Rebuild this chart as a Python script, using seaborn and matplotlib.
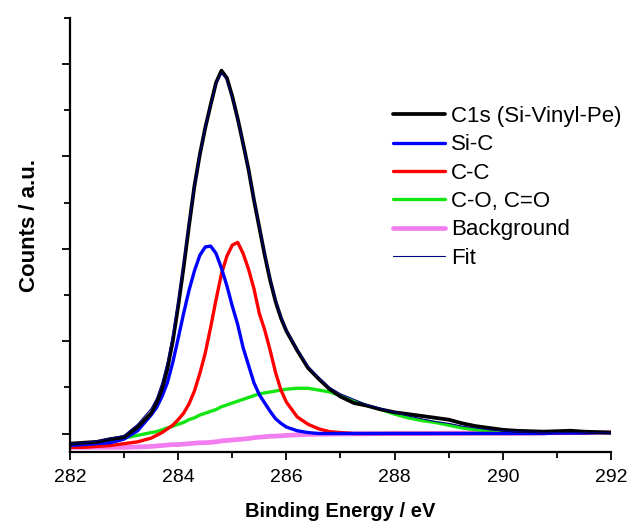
import seaborn as sns
import matplotlib.pyplot as plt
from matplotlib.ticker import MultipleLocator
import pandas as pd

sns.set_theme(style="ticks")
plt.rcParams['font.family'] = ['Liberation Sans', 'DejaVu Sans']
plt.rcParams['text.color'] = 'black'
plt.rcParams['axes.labelcolor'] = 'black'

# binding energy grid (eV)
energy = [282.0, 282.25, 282.5, 282.75, 283.0, 283.25, 283.5, 283.6, 283.7, 283.8,
          283.9, 284.0, 284.1, 284.2, 284.3, 284.4, 284.5, 284.6, 284.7, 284.8,
          284.9, 285.0, 285.1, 285.2, 285.3, 285.4, 285.5, 285.6, 285.7, 285.8,
          285.9, 286.0, 286.2, 286.4, 286.6, 286.8, 287.0, 287.25, 287.5, 287.75,
          288.0, 288.25, 288.5, 288.75, 289.0, 289.25, 289.5, 289.75, 290.0, 290.25,
          290.5, 290.75, 291.0, 291.25, 291.5, 291.75, 292.0]

# counts (arbitrary units)
c1s = [-0.11, -0.10, -0.09, -0.06, -0.04, 0.07, 0.22, 0.33, 0.48, 0.70,
       1.00, 1.38, 1.80, 2.25, 2.68, 3.02, 3.31, 3.56, 3.80, 3.93,
       3.85, 3.65, 3.41, 3.14, 2.86, 2.53, 2.23, 1.93, 1.66, 1.43,
       1.25, 1.11, 0.90, 0.71, 0.59, 0.48, 0.40, 0.33, 0.30, 0.26,
       0.23, 0.21, 0.19, 0.17, 0.15, 0.11, 0.08, 0.06, 0.04, 0.03,
       0.025, 0.02, 0.025, 0.03, 0.02, 0.015, 0.01]
si_c = [-0.13, -0.12, -0.11, -0.10, -0.06, 0.03, 0.20, 0.28, 0.40, 0.55,
        0.77, 1.03, 1.30, 1.55, 1.76, 1.93, 2.02, 2.03, 1.95, 1.79,
        1.60, 1.38, 1.18, 0.93, 0.74, 0.55, 0.42, 0.33, 0.24, 0.16,
        0.11, 0.07, 0.03, 0.01, 0.0, 0.0, 0.0, 0.0, 0.0, 0.0,
        0.0, 0.0, 0.0, 0.0, 0.0, 0.0, 0.0, 0.0, 0.0, 0.0,
        0.0, 0.0, 0.005, 0.005, 0.005, 0.01, 0.01]
c_c = [-0.15, -0.15, -0.14, -0.13, -0.11, -0.09, -0.05, -0.02, 0.01, 0.05,
       0.09, 0.15, 0.22, 0.32, 0.46, 0.65, 0.87, 1.15, 1.45, 1.73,
       1.92, 2.04, 2.07, 1.95, 1.78, 1.57, 1.30, 1.12, 0.90, 0.66,
       0.47, 0.34, 0.18, 0.10, 0.05, 0.02, 0.01, 0.0, 0.0, 0.0,
       0.0, 0.0, 0.0, 0.0, 0.0, 0.0, 0.0, 0.0, 0.0, 0.0,
       0.0, 0.0, 0.005, 0.005, 0.005, 0.01, 0.01]
c_o = [-0.12, -0.11, -0.10, -0.08, -0.05, -0.02, 0.01, 0.02, 0.04, 0.06,
       0.08, 0.10, 0.12, 0.15, 0.17, 0.20, 0.22, 0.24, 0.26, 0.29,
       0.31, 0.33, 0.35, 0.37, 0.39, 0.41, 0.43, 0.44, 0.45, 0.46,
       0.47, 0.48, 0.49, 0.49, 0.47, 0.45, 0.41, 0.35, 0.30, 0.26,
       0.21, 0.17, 0.14, 0.12, 0.09, 0.06, 0.04, 0.03, 0.02, 0.015,
       0.01, 0.01, 0.01, 0.01, 0.01, 0.01, 0.01]
background = [-0.15, -0.15, -0.15, -0.15, -0.15, -0.145, -0.14, -0.135, -0.13, -0.125,
              -0.12, -0.12, -0.115, -0.11, -0.105, -0.10, -0.10, -0.095, -0.09, -0.08,
              -0.075, -0.07, -0.065, -0.06, -0.055, -0.045, -0.04, -0.035, -0.03, -0.028,
              -0.025, -0.02, -0.015, -0.01, -0.008, -0.006, -0.005, -0.004, -0.003, -0.002,
              0.0, 0.0, 0.0, 0.002, 0.003, 0.004, 0.005, 0.005, 0.005, 0.006,
              0.007, 0.008, 0.008, 0.009, 0.01, 0.01, 0.01]
fit = [-0.11, -0.10, -0.08, -0.05, -0.02, 0.10, 0.27, 0.38, 0.55, 0.78,
       1.08, 1.45, 1.86, 2.28, 2.68, 3.02, 3.31, 3.56, 3.79, 3.90,
       3.83, 3.64, 3.41, 3.14, 2.86, 2.54, 2.24, 1.95, 1.68, 1.45,
       1.27, 1.12, 0.91, 0.73, 0.61, 0.50, 0.43, 0.37, 0.31, 0.27,
       0.23, 0.19, 0.16, 0.13, 0.11, 0.08, 0.06, 0.04, 0.03, 0.02,
       0.015, 0.012, 0.01, 0.01, 0.01, 0.01, 0.01]

df = pd.DataFrame({'energy': energy, 'c1s': c1s, 'si_c': si_c, 'c_c': c_c,
                   'c_o': c_o, 'background': background, 'fit': fit})

fig = plt.figure(figsize=(6.27, 5.23), dpi=100)
ax = fig.add_axes([0.1116, 0.1358, 0.8629, 0.8298])

series = [('background', 'Background', '#f27ef0', 3.4),
          ('c_o', 'C-O, C=O', '#14e614', 2.4),
          ('c_c', 'C-C', '#ff0000', 2.4),
          ('si_c', 'Si-C', '#0000ff', 2.4),
          ('c1s', 'C1s (Si-Vinyl-Pe)', '#000000', 2.7),
          ('fit', 'Fit', '#000080', 0.8)]
for col, lab, colr, lw in series:
    sns.lineplot(data=df, x='energy', y=col, color=colr, linewidth=lw,
                 label=lab, ax=ax, legend=False)

handles, labels = ax.get_legend_handles_labels()
order = ['C1s (Si-Vinyl-Pe)', 'Si-C', 'C-C', 'C-O, C=O', 'Background', 'Fit']
hmap = dict(zip(labels, handles))
ax.legend([hmap[o] for o in order], order, loc='upper left',
          bbox_to_anchor=(0.597, 0.797), frameon=False, fontsize=16,
          handlelength=2.34, handletextpad=0.27, labelspacing=0.33,
          borderaxespad=0, borderpad=0)

ax.set_xlim(282, 292)
ax.set_ylim(-0.2, 4.5)
ax.xaxis.set_major_locator(MultipleLocator(2))
ax.xaxis.set_minor_locator(MultipleLocator(1))
ax.yaxis.set_major_locator(MultipleLocator(1))
ax.yaxis.set_minor_locator(MultipleLocator(0.5))
ax.set_yticklabels([])
ax.tick_params(axis='both', which='major', length=6, width=1.3, direction='out',
               labelsize=14, colors='black')
ax.tick_params(axis='both', which='minor', length=4, width=1.3, direction='out',
               colors='black')
ax.tick_params(axis='x', pad=6)
for s in ['left', 'bottom']:
    ax.spines[s].set_linewidth(1.6)
    ax.spines[s].set_color('black')
sns.despine(ax=ax)

ax.set_xlabel('Binding Energy / eV', fontsize=14.5, fontweight='bold', labelpad=12)
ax.set_ylabel('Counts / a.u.', fontsize=16, fontweight='bold')
ax.yaxis.set_label_coords(-0.055, 0.521)

plt.savefig('out.png', dpi=100)
